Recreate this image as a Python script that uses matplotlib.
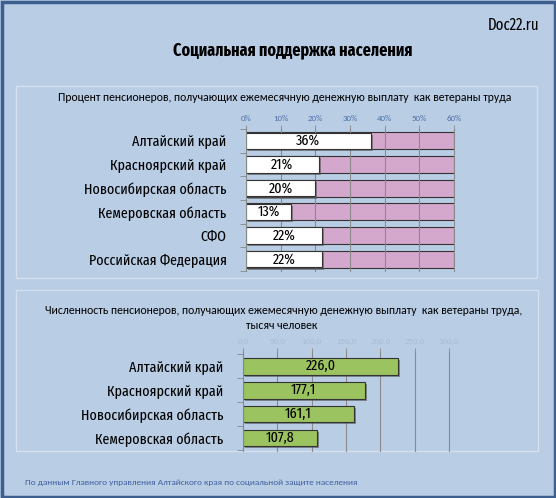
import matplotlib.pyplot as plt
import matplotlib.patheffects as pe
from matplotlib.patches import Rectangle
import numpy as np

W, H = 556, 498

# data
regions_pct = ["Алтайский край", "Красноярский край", "Новосибирская область",
               "Кемеровская область", "СФО", "Российская Федерация"]
pct_values = [36, 21, 20, 13, 22, 22]
pct_ticks = [0, 10, 20, 30, 40, 50, 60]

regions_cnt = ["Алтайский край", "Красноярский край", "Новосибирская область",
               "Кемеровская область"]
cnt_values = [226.0, 177.1, 161.1, 107.8]
cnt_ticks = [0, 50, 100, 150, 200, 250, 300]

NARROW = ["Fira Sans Extra Condensed", "Roboto Condensed", "DejaVu Sans"]
REG = ["Carlito", "Open Sans", "DejaVu Sans"]

BG = "#b9cde5"
PINK = "#d4a8cc"
GREEN = "#9bc35f"
EDGE = "#333333"

fig = plt.figure(figsize=(W / 100, H / 100), dpi=100)
fig.patch.set_facecolor(BG)

bg = fig.add_axes([0, 0, 1, 1])
bg.set_xlim(0, W)
bg.set_ylim(H, 0)
bg.axis("off")
bg.add_patch(Rectangle((1.5, 1.5), W - 3, H - 3, fill=False, ec="#3d5f8f", lw=2.5))
bg.add_patch(Rectangle((16, 86), 521, 192, fill=False, ec="#d6e0ee", lw=1))
bg.add_patch(Rectangle((16, 290), 522, 161, fill=False, ec="#d6e0ee", lw=1))

bg.text(539, 25, "Doc22.ru", ha="right", va="center", fontsize=11.5, family=NARROW)
bg.text(293, 50, "Социальная поддержка населения", ha="center", va="center",
        fontsize=12.5, family=NARROW, fontweight="bold")
bg.text(285, 97, "Процент пенсионеров, получающих ежемесячную денежную выплату  как ветераны труда",
        ha="center", va="center", fontsize=8.5, family=REG)
bg.text(284, 310, "Численность пенсионеров, получающих ежемесячную денежную выплату  как ветераны труда,",
        ha="center", va="center", fontsize=8.5, family=REG)
bg.text(282, 325, "тысяч человек", ha="center", va="center", fontsize=8.5, family=REG)
bg.text(25, 482, "По данным Главного управления Алтайского края по социальной защите населения",
        ha="left", va="center", fontsize=6.7, family=REG, color="#3f5f9f")


def px_axes(x0, y0, x1, y1):
    return fig.add_axes([x0 / W, 1 - y1 / H, (x1 - x0) / W, (y1 - y0) / H])


shadow = [pe.SimplePatchShadow(offset=(1.5, -1.5), shadow_rgbFace="#555555", alpha=0.6), pe.Normal()]


def setup(ax, labels, ticks, ticklabels, xmax, tick_color):
    n = len(labels)
    ax.set_facecolor("none")
    ax.set_xlim(0, xmax)
    ax.xaxis.tick_top()
    ax.set_xticks(ticks)
    ax.set_xticklabels(ticklabels, fontsize=6.4, family=REG, color=tick_color)
    ax.tick_params(axis="x", length=3, width=0.6, color="#888888", pad=2)
    ax.set_yticks(range(n))
    ax.set_yticklabels(labels, fontsize=11, family=NARROW)
    ax.set_yticks(np.arange(n + 1) - 0.5, minor=True)
    ax.tick_params(axis="y", which="major", length=0, pad=14)
    ax.tick_params(axis="y", which="minor", length=4, width=0.6, color="#888888")
    for s in ["top", "right", "bottom"]:
        ax.spines[s].set_visible(False)
    ax.spines["left"].set_color("#888888")
    ax.spines["left"].set_linewidth(0.8)
    for t in ticks[1:]:
        ax.axvline(t, color="#8a8a8a", lw=0.8, zorder=1.5, clip_on=False)


# top chart
ax1 = px_axes(246, 129, 454, 271)
setup(ax1, regions_pct, pct_ticks, [f"{t}%" for t in pct_ticks], 60, "#4f6fa8")
ax1.set_ylim(5.5, -0.5)
y1 = np.arange(len(regions_pct))
ax1.barh(y1, [pct_ticks[-1]] * len(y1), height=0.72, color=PINK, edgecolor=EDGE, lw=0.8, zorder=1)
bars = ax1.barh(y1, pct_values, height=0.7, color="white", edgecolor=EDGE, lw=0.8, zorder=2)
for b in bars:
    b.set_path_effects(shadow)
for y, v in zip(y1, pct_values):
    ax1.text(v / 2, y, f"{v}%", ha="center", va="center", fontsize=11, family=NARROW, zorder=3)

# bottom chart
ax2 = px_axes(243, 352, 449, 451)
setup(ax2, regions_cnt, cnt_ticks, [f"{t:.1f}".replace(".", ",") for t in cnt_ticks], 300, "#a9bdd8")
ax2.set_ylim(3.55, -0.6)
y2 = np.arange(len(regions_cnt))
bars = ax2.barh(y2, cnt_values, height=0.7, color=GREEN, edgecolor=EDGE, lw=0.8, zorder=2)
for b in bars:
    b.set_path_effects(shadow)
for y, v in zip(y2, cnt_values):
    ax2.text(v / 2, y, f"{v:.1f}".replace(".", ","), ha="center", va="center",
             fontsize=11, family=NARROW, zorder=3)

fig.savefig("out.png", dpi=100, facecolor=BG)
